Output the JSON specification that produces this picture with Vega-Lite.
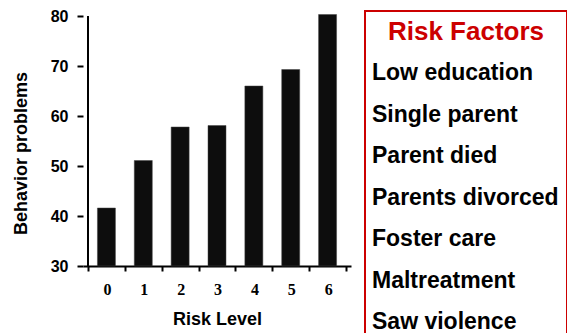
{
  "$schema": "https://vega.github.io/schema/vega-lite/v6.json",
  "padding": {"left": 12, "top": 8, "right": 0, "bottom": 0},
  "background": "white",
  "spacing": -8,
  "config": {
    "font": "Liberation Sans",
    "axis": {"grid": false, "domainColor": "black", "tickColor": "black", "domainWidth": 2, "tickWidth": 2, "labelColor": "black", "titleColor": "black"},
    "axisX": {"labelOverlap": false, "labelFlush": false}
  },
  "hconcat": [
    {
      "width": 268,
      "height": 255,
      "view": {"stroke": null},
      "data": {"values": [
        {"risk": 0, "score": 41.6},
        {"risk": 1, "score": 51.1},
        {"risk": 2, "score": 57.8},
        {"risk": 3, "score": 58.1},
        {"risk": 4, "score": 66.0},
        {"risk": 5, "score": 69.3},
        {"risk": 6, "score": 80.3}
      ]},
      "layer": [
        {
          "mark": {"type": "bar", "size": 18, "color": "#0d0d0d", "stroke": "#444", "strokeWidth": 0.5},
          "encoding": {
            "x": {"field": "risk", "type": "quantitative",
              "scale": {"domain": [-0.5, 6.5], "nice": false, "zero": false},
              "axis": {"title": "Risk Level", "values": [-0.5, 0.5, 1.5, 2.5, 3.5, 4.5, 5.5, 6.5],
                "labelExpr": "datum.value < 6 ? format(datum.value + 0.5, 'd') : ''",
                "labelOffset": 19, "labelFont": "Liberation Serif", "labelFontWeight": "bold", "labelFontSize": 16,
                "tickSize": 5, "labelPadding": 10, "labelFlush": false, "labelOverlap": false,
                "titleFontSize": 18, "titleFontWeight": "bold", "titlePadding": 13}},
            "y": {"field": "score", "type": "quantitative",
              "scale": {"domain": [30, 81], "nice": false, "zero": false},
              "axis": {"title": "Behavior problems", "values": [30, 40, 50, 60, 70, 80], "domain": false,
                "labelFontSize": 16, "labelFontWeight": "bold", "tickSize": 6, "labelPadding": 9,
                "titleFontSize": 18, "titleFontWeight": "bold", "titlePadding": 20, "titleY": 142}},
            "y2": {"datum": 30}
          }
        },
        {
          "mark": {"type": "rule", "color": "black", "strokeWidth": 2},
          "encoding": {
            "x": {"datum": -0.5, "type": "quantitative",
              "axis": {"title": "Risk Level", "values": [-0.5, 0.5, 1.5, 2.5, 3.5, 4.5, 5.5, 6.5],
                "labelExpr": "datum.value < 6 ? format(datum.value + 0.5, 'd') : ''",
                "labelOffset": 19, "labelFont": "Liberation Serif", "labelFontWeight": "bold", "labelFontSize": 16,
                "tickSize": 5, "labelPadding": 10, "labelFlush": false, "labelOverlap": false,
                "titleFontSize": 18, "titleFontWeight": "bold", "titlePadding": 13}},
            "y": {"datum": 30, "type": "quantitative"},
            "y2": {"datum": 80}
          }
        }
      ]
    },
    {
      "width": 202,
      "height": {"step": 41.5},
      "view": {"stroke": "#cc0000", "strokeWidth": 2},
      "data": {"values": [
        {"order": 0, "label": "Risk Factors", "kind": "title"},
        {"order": 1, "label": "Low education", "kind": "item"},
        {"order": 2, "label": "Single parent", "kind": "item"},
        {"order": 3, "label": "Parent died", "kind": "item"},
        {"order": 4, "label": "Parents divorced", "kind": "item"},
        {"order": 5, "label": "Foster care", "kind": "item"},
        {"order": 6, "label": "Maltreatment", "kind": "item"},
        {"order": 7, "label": "Saw violence", "kind": "item"}
      ]},
      "encoding": {
        "y": {"field": "label", "type": "nominal", "sort": {"field": "order"},
          "scale": {"type": "point", "padding": 0.5}, "axis": null},
        "text": {"field": "label"}
      },
      "layer": [
        {
          "transform": [{"filter": "datum.kind === 'title'"}],
          "mark": {"type": "text", "color": "#cc0000", "fontSize": 26, "fontWeight": "bold", "align": "center", "baseline": "middle"}
        },
        {
          "transform": [{"filter": "datum.kind === 'item'"}],
          "mark": {"type": "text", "color": "black", "fontSize": 23, "fontWeight": "bold", "align": "left", "baseline": "middle"},
          "encoding": {"x": {"value": 7}}
        }
      ]
    }
  ]
}
